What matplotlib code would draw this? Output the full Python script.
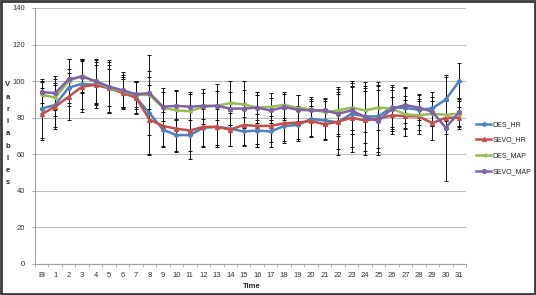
import matplotlib
matplotlib.use("Agg")
import matplotlib.pyplot as plt
from matplotlib.patches import Rectangle
import numpy as np

categories = ["Bl"] + [str(i) for i in range(1, 32)]

des_hr = [85, 87, 96.5, 98.5, 98, 96, 94, 91, 82.5, 73.5, 70.5, 70.5, 74.5, 75, 74, 72.5,
          73, 72.5, 75.5, 76, 79.3, 78.5, 77.5, 82.2, 80.7, 80.7, 85.8, 85.3, 84.4, 85.1, 90, 100]
sevo_hr = [82, 86, 91.5, 97, 98, 96.5, 93.5, 91, 79, 75.5, 74, 73, 75, 75, 73.5, 76,
           75.5, 75.5, 77, 77.3, 78.2, 76.4, 77.8, 80, 78.5, 79.5, 81.3, 80.9, 80.7, 77, 80, 80]
des_map = [92.5, 91, 100, 103, 99.5, 96.5, 94.5, 92.5, 92.5, 85.5, 84, 83.5, 86, 86.5, 88, 87.3,
           85.5, 86, 87, 85.3, 84.7, 83, 84, 85.5, 84, 85.5, 85, 81.8, 81.3, 82.2, 81.6, 82.2]
sevo_map = [94, 93.5, 101, 102.5, 100, 97, 95, 92.8, 93.5, 86, 86.5, 86, 86.5, 86.5, 85, 85,
            85.5, 84, 85.8, 84.4, 84, 84, 82.2, 84, 80.4, 78.2, 85, 86.9, 85.5, 83.3, 74.5, 83]

des_hr_sd = [16, 12, 10, 13.5, 12.5, 13, 8, 8.5, 23, 9.5, 9, 13, 10, 11, 9.5, 8,
             9, 8.5, 9.5, 9, 10, 10.5, 18, 18, 19, 17, 12, 11, 8.5, 9, 12, 10]
sevo_hr_sd = [14, 12, 13, 14, 11, 10, 7.5, 9, 19, 11, 12, 11, 11, 10, 9, 11,
              10, 9, 10, 9, 8, 8, 15, 19, 19, 20, 10, 11, 9.5, 9, 9, 6]
des_map_sd = [7, 10, 12, 9, 12, 14, 9, 7.5, 22, 10.5, 11, 10.5, 9.5, 12, 12, 13,
              8.5, 7.5, 7, 7, 6.8, 7, 13, 12, 12, 12, 10, 8, 8, 7, 8, 7]
sevo_map_sd = [6, 9.5, 11, 9, 12, 14.5, 10, 7, 9, 8, 8, 7, 7, 8, 9, 10,
               7, 7, 7, 8, 6, 7, 12, 13, 14, 17, 12, 10, 7, 8, 29, 8]

series = [
    ("DES_HR", des_hr, des_hr_sd, "#4F81BD", "D", 2.2),
    ("SEVO_HR", sevo_hr, sevo_hr_sd, "#C0504D", "^", 2.8),
    ("DES_MAP", des_map, des_map_sd, "#9BBB59", "<", 2.4),
    ("SEVO_MAP", sevo_map, sevo_map_sd, "#8064A2", "o", 2.8),
]

plt.rcParams['font.family'] = ['Liberation Sans', 'DejaVu Sans']

fig = plt.figure(figsize=(5.36, 2.95), dpi=100)
ax = fig.add_axes([35/536, 1-264/295, (466-35)/536, (264-8)/295])

x = np.arange(len(categories))
handles = []
for name, vals, sd, col, mk, ms in series:
    ax.errorbar(x, vals, yerr=sd, fmt='none', ecolor='#111111', elinewidth=0.7,
                capsize=1.6, capthick=0.7, zorder=2)
for name, vals, sd, col, mk, ms in series:
    h, = ax.plot(x, vals, color=col, lw=1.8, marker=mk, markersize=ms,
                 markeredgecolor=col, label=name, zorder=3)
    handles.append(h)

ax.set_xlim(-0.5, len(categories) - 0.5)
ax.set_ylim(0, 140)
ax.set_yticks(range(0, 141, 20))
ax.set_xticks(x)
ax.set_xticklabels(categories)
ax.set_xticks(np.arange(-0.5, len(categories), 1), minor=True)
ax.tick_params(axis='x', which='major', length=0, labelsize=5.5, pad=6, colors='#333333')
ax.tick_params(axis='x', which='minor', length=2, direction='out', color='#A0A0A0', width=0.6)
ax.tick_params(axis='y', which='major', length=2, direction='out', color='#A0A0A0', width=0.6,
               labelsize=5.5, pad=5, colors='#333333')
ax.grid(axis='y', color='#BDBDBD', lw=0.8)
ax.set_axisbelow(True)
for s in ['top', 'right']:
    ax.spines[s].set_visible(False)
for s in ['left', 'bottom']:
    ax.spines[s].set_color('#A0A0A0')
    ax.spines[s].set_linewidth(0.8)

fig.text(252/536, 1-286/295, "Time", fontsize=5.5, fontweight='bold', ha='center', va='center',
         color='#222222')
ylabel = "Variables"
for i, ch in enumerate(ylabel):
    fig.text(8/536, 1-(85 + i*12.2)/295, ch, fontsize=5.5, fontweight='bold', ha='center',
             va='center', color='#222222')

leg = fig.legend(handles=handles, loc='upper left', bbox_to_anchor=(476/536, 1-121/295),
                 frameon=False, fontsize=5, handlelength=2.2, handletextpad=0.15,
                 labelspacing=1.25, borderaxespad=0, borderpad=0)
for t in leg.get_texts():
    t.set_color('#222222')

fig.add_artist(Rectangle((0.002, 0.003), 0.996, 0.994, transform=fig.transFigure,
                         fill=False, edgecolor='#3a3a3a', lw=2))

fig.savefig("out.png", dpi=100)
